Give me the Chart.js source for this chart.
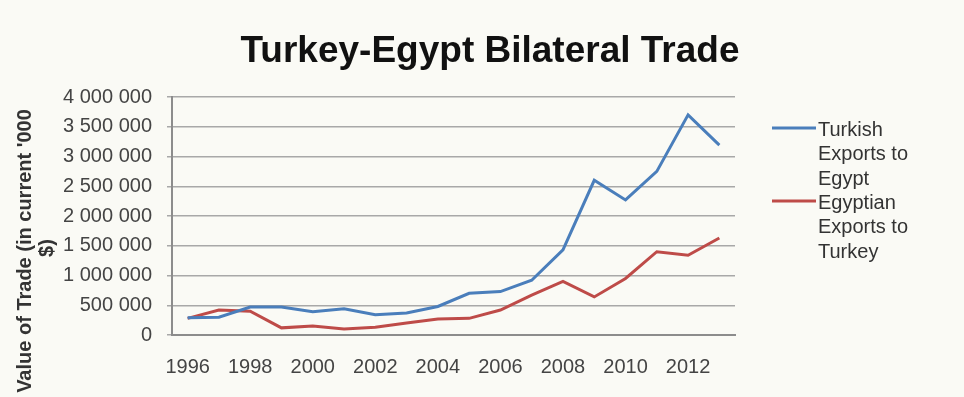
<!DOCTYPE html>
<html>
<head>
<meta charset="utf-8">
<script src="https://cdn.jsdelivr.net/npm/chart.js@4"></script>
<style>
  body { margin: 0; background: #fafaf5; }
  #wrap { width: 964px; height: 397px; }
</style>
</head>
<body>
<div id="wrap"><canvas id="tradeChart" width="964" height="397"></canvas></div>
<script>
const years = ['1996', '1997', '1998', '1999', '2000', '2001', '2002', '2003', '2004',
               '2005', '2006', '2007', '2008', '2009', '2010', '2011', '2012', '2013'];
const turkishExports = [290000, 300000, 470000, 470000, 390000, 440000, 340000, 370000, 480000,
                        700000, 730000, 920000, 1430000, 2600000, 2270000, 2750000, 3700000, 3190000];
const egyptianExports = [280000, 420000, 400000, 120000, 150000, 100000, 130000, 200000, 270000,
                         280000, 420000, 670000, 900000, 640000, 950000, 1400000, 1340000, 1630000];
const seriesNames = [['Turkish', 'Exports to', 'Egypt'], ['Egyptian', 'Exports to', 'Turkey']];
const chartTitle = 'Turkey-Egypt Bilateral Trade';
const yTitle = ["Value of Trade (in current '000", '$)'];

const BLUE = '#4a7ebb';
const RED = '#be4b48';

// title, y axis title and the wrapped legend are drawn by hand
const decorations = {
    id: 'decorations',
    beforeDraw(chart) {
        const ctx = chart.ctx;
        ctx.save();
        ctx.fillStyle = '#fafaf5';
        ctx.fillRect(0, 0, chart.width, chart.height);
        ctx.restore();
    },
    afterDraw(chart) {
        const ctx = chart.ctx;
        ctx.save();

        ctx.fillStyle = '#111';
        ctx.font = 'bold 37px "Liberation Sans", Arial, sans-serif';
        ctx.textAlign = 'center';
        ctx.textBaseline = 'alphabetic';
        ctx.fillText(chartTitle, 490, 62);

        ctx.font = 'bold 20px "Liberation Sans", Arial, sans-serif';
        ctx.fillStyle = '#333';
        ctx.textBaseline = 'middle';
        ctx.save();
        ctx.translate(25, 251);
        ctx.rotate(-Math.PI / 2);
        ctx.fillText(yTitle[0], 0, 0);
        ctx.restore();
        ctx.save();
        ctx.translate(47, 248);
        ctx.rotate(-Math.PI / 2);
        ctx.fillText(yTitle[1], 0, 0);
        ctx.restore();

        ctx.font = '20px "Liberation Sans", Arial, sans-serif';
        ctx.textAlign = 'left';
        const colors = [BLUE, RED];
        const tops = [130, 203];
        seriesNames.forEach((lines, i) => {
            ctx.strokeStyle = colors[i];
            ctx.lineWidth = 3;
            ctx.beginPath();
            ctx.moveTo(772, tops[i] - 2);
            ctx.lineTo(816, tops[i] - 2);
            ctx.stroke();
            ctx.fillStyle = '#333';
            lines.forEach((t, j) => ctx.fillText(t, 818, tops[i] + j * 24.5));
        });
        ctx.restore();
    }
};

const fmt = v => v.toString().replace(/\B(?=(\d{3})+(?!\d))/g, ' ');

new Chart(document.getElementById('tradeChart'), {
    type: 'line',
    data: {
        labels: years,
        datasets: [
            {
                label: 'Turkish Exports to Egypt',
                data: turkishExports,
                borderColor: BLUE,
                borderWidth: 3,
                pointRadius: 0,
                tension: 0,
                fill: false
            },
            {
                label: 'Egyptian Exports to Turkey',
                data: egyptianExports,
                borderColor: RED,
                borderWidth: 3,
                pointRadius: 0,
                tension: 0,
                fill: false
            }
        ]
    },
    options: {
        responsive: false,
        animation: false,
        layout: { padding: { left: 0, right: 229, top: 97, bottom: 0 } },
        plugins: {
            legend: { display: false },
            title: { display: false },
            tooltip: { enabled: false }
        },
        scales: {
            x: {
                offset: true,
                grid: { display: false, drawTicks: false },
                border: { color: '#8c8c8c', width: 2 },
                afterFit: s => { s.height = 62; },
                ticks: {
                    autoSkip: false,
                    maxRotation: 0,
                    padding: 20,
                    color: '#444',
                    font: { family: '"Liberation Sans", Arial, sans-serif', size: 20 },
                    callback: function (val, i) {
                        const y = this.getLabelForValue(val);
                        return Number(y) % 2 === 0 ? y : '';
                    }
                }
            },
            y: {
                min: 0,
                max: 4000000,
                afterFit: s => { s.width = 172; },
                grid: { color: '#a8a8a8', lineWidth: 1.5, tickLength: 5 },
                border: { color: '#8c8c8c', width: 2 },
                ticks: {
                    stepSize: 500000,
                    padding: 15,
                    color: '#444',
                    font: { family: '"Liberation Sans", Arial, sans-serif', size: 20 },
                    callback: v => fmt(v)
                }
            }
        }
    },
    plugins: [decorations]
});
</script>
</body>
</html>
